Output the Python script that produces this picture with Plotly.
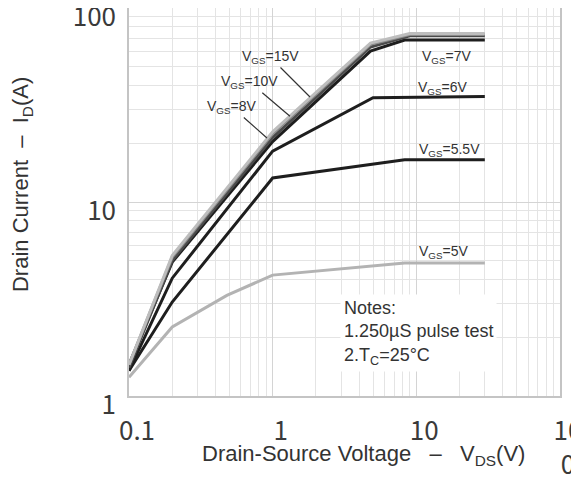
import plotly.graph_objects as go
import math

# ---------------- data ----------------
vds_top = [0.1, 0.2, 1.0, 4.8, 9.0, 30]
id_15v = [1.45, 5.3, 23.0, 66.0, 74.0, 74.0]
id_10v = [1.45, 5.2, 22.5, 65.0, 73.0, 73.0]
id_8v = [1.40, 5.0, 21.5, 63.0, 72.0, 72.0]

vds_7v = [0.1, 0.2, 1.0, 4.8, 8.3, 30]
id_7v = [1.45, 4.9, 20.5, 60.0, 68.5, 68.5]

vds_6v = [0.1, 0.2, 1.0, 5.0, 30]
id_6v = [1.35, 4.05, 18.3, 34.5, 35.0]

vds_55v = [0.1, 0.2, 1.0, 8.3, 30]
id_55v = [1.35, 3.05, 13.3, 16.5, 16.5]

vds_5v = [0.1, 0.2, 0.48, 1.0, 8.3, 30]
id_5v = [1.25, 2.27, 3.3, 4.2, 4.85, 4.85]

x_tickvals = [0.1, 1, 10, 100]
x_ticktext = ["0.1", "1", "10", "10<br>0"]
y_tickvals = [1, 10, 100]
y_ticktext = ["1", "10", "100"]

series = [
    ("V<sub>GS</sub>=5V", vds_5v, id_5v, "#b3b3b3"),
    ("V<sub>GS</sub>=5.5V", vds_55v, id_55v, "#1e1e1e"),
    ("V<sub>GS</sub>=6V", vds_6v, id_6v, "#1e1e1e"),
    ("V<sub>GS</sub>=7V", vds_7v, id_7v, "#1e1e1e"),
    ("V<sub>GS</sub>=8V", vds_top, id_8v, "#4a4a4a"),
    ("V<sub>GS</sub>=10V", vds_top, id_10v, "#8a8a8a"),
    ("V<sub>GS</sub>=15V", vds_top, id_15v, "#bdbdbd"),
]

fig = go.Figure()
for name, xs, ys, col in series:
    fig.add_trace(go.Scatter(x=xs, y=ys, mode="lines", name=name,
                             line=dict(color=col, width=3), hoverinfo="skip"))

# minor grid positions (2..9 of each decade)
x_minor = [m * 10 ** d for d in range(-1, 2) for m in range(2, 10)]
y_minor = [m * 10 ** d for d in range(0, 2) for m in range(2, 10)]

tickfont = dict(family="Noto Sans CJK SC", size=26, color="#3a3a3a")
lab_font = dict(family="Liberation Sans, Arial", size=14, color="#333333")
title_font = dict(family="Liberation Sans, Arial", size=22, color="#333333")

# the page body adds an 8px offset, so the figure is drawn 8px smaller
fig.update_layout(
    template="none",
    width=571, height=471,
    margin=dict(l=121, r=19, t=0, b=83, autoexpand=False),
    paper_bgcolor="white", plot_bgcolor="white",
    showlegend=False,
    xaxis=dict(type="log", range=[-1, 2.0005], tickvals=x_tickvals, ticktext=x_ticktext,
               showgrid=True, gridcolor="#d4d4d4", gridwidth=1, automargin=False,
               minor=dict(tickvals=x_minor, showgrid=True, gridcolor="#e4e4e4", gridwidth=1, ticks=""),
               showline=True, linecolor="#c4c4c4", linewidth=1.5, mirror=True,
               ticks="", tickfont=tickfont, ticklabelstandoff=11, ticklabelshift=8,
               ticklabeloverflow="allow", zeroline=False),
    yaxis=dict(type="log", range=[0, 2.0005], tickvals=y_tickvals, ticktext=y_ticktext,
               showgrid=True, gridcolor="#d4d4d4", gridwidth=1, automargin=False,
               minor=dict(tickvals=y_minor, showgrid=True, gridcolor="#e4e4e4", gridwidth=1, ticks=""),
               showline=True, linecolor="#c4c4c4", linewidth=1.5, mirror=True,
               ticks="", tickfont=tickfont, ticklabelstandoff=6, ticklabelshift=9,
               ticklabeloverflow="allow", zeroline=False),
)

annotations = []
# right-side curve labels (positions in log10 data units)
for txt, lx, ly in [("V<sub>GS</sub>=7V", 1.213, 1.747),
                    ("V<sub>GS</sub>=6V", 1.185, 1.588),
                    ("V<sub>GS</sub>=5.5V", 1.234, 1.268),
                    ("V<sub>GS</sub>=5V", 1.19, 0.742)]:
    annotations.append(dict(x=lx, y=ly, xref="x", yref="y", text=txt, showarrow=False,
                            font=lab_font, xanchor="center", yanchor="middle"))

# labels with leader lines (tip on curve, text offset in px)
for txt, vx, iy, ax, ay in [("V<sub>GS</sub>=15V", 1.82, 34.8, -40, -40),
                            ("V<sub>GS</sub>=10V", 1.32, 27.7, -40, -34),
                            ("V<sub>GS</sub>=8V", 0.913, 21.4, -35, -31)]:
    annotations.append(dict(x=math.log10(vx), y=math.log10(iy), xref="x", yref="y", text=txt,
                            showarrow=True, arrowhead=0, arrowwidth=1.2, arrowcolor="#333333",
                            ax=ax, ay=ay, font=lab_font, standoff=0))

# notes box
annotations.append(dict(x=0.49, y=0.262, xref="paper", yref="paper", xanchor="left", yanchor="top",
                        align="left", showarrow=False, bgcolor="white", borderpad=3,
                        text="Notes:<br>1.250µS pulse test<br>2.T<sub>C</sub>=25°C",
                        font=dict(family="Liberation Sans, Arial", size=18, color="#333333")))

# axis titles
annotations.append(dict(x=0.543, y=-0.152, xref="paper", yref="paper", xanchor="center", yanchor="middle",
                        showarrow=False, text="Drain-Source Voltage   \u2013   V<sub>DS</sub>(V)", font=title_font))
annotations.append(dict(x=-0.248, y=0.544, xref="paper", yref="paper", xanchor="center", yanchor="middle",
                        showarrow=False, textangle=-90,
                        text="Drain Current  \u2013  I<sub>D</sub>(A)", font=title_font))

fig.update_layout(annotations=annotations)
fig.write_html("out.html")
